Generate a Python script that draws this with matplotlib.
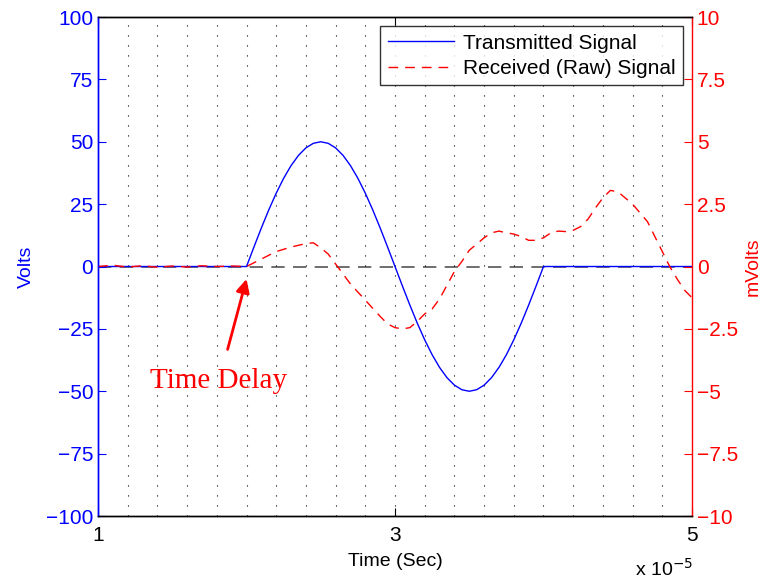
import numpy as np
import matplotlib
matplotlib.use('Agg')
import matplotlib.pyplot as plt
from matplotlib.ticker import FixedLocator, FuncFormatter

plt.rcParams['font.family'] = ['Liberation Sans', 'DejaVu Sans']

# transmitted pulse (Volts), time in units of 1e-5 s
tx_t = [1.0, 2.0, 2.05, 2.1, 2.15, 2.2, 2.25, 2.3, 2.35, 2.4, 2.45, 2.5,
        2.55, 2.6, 2.65, 2.7, 2.75, 2.8, 2.85, 2.9, 2.95, 3.0,
        3.05, 3.1, 3.15, 3.2, 3.25, 3.3, 3.35, 3.4, 3.45, 3.5,
        3.55, 3.6, 3.65, 3.7, 3.75, 3.8, 3.85, 3.9, 3.95, 4.0, 5.0]
tx_v = [0, 0, 7.82, 15.45, 22.70, 29.39, 35.36, 40.45, 44.55, 47.55, 49.38, 50,
        49.38, 47.55, 44.55, 40.45, 35.36, 29.39, 22.70, 15.45, 7.82, 0,
        -7.82, -15.45, -22.70, -29.39, -35.36, -40.45, -44.55, -47.55, -49.38, -50,
        -49.38, -47.55, -44.55, -40.45, -35.36, -29.39, -22.70, -15.45, -7.82, 0, 0]

# received raw signal (mVolts)
rx_t = [1.0, 1.1, 1.2, 1.3, 1.4, 1.5, 1.6, 1.7, 1.8, 1.9, 2.0, 2.05, 2.1, 2.2,
        2.3, 2.4, 2.45, 2.5, 2.55, 2.6, 2.65, 2.7, 2.8, 2.9, 2.95, 3.0, 3.05,
        3.1, 3.15, 3.2, 3.25, 3.3, 3.35, 3.4, 3.45, 3.5, 3.55, 3.6, 3.65, 3.7,
        3.75, 3.8, 3.85, 3.9, 3.95, 4.0, 4.05, 4.1, 4.15, 4.2, 4.25, 4.3, 4.35,
        4.4, 4.45, 4.5, 4.55, 4.6, 4.65, 4.7, 4.75, 4.8, 4.85, 4.9, 4.95, 5.0]
rx_v = [0.0, 0.05, -0.02, 0.03, -0.03, 0.02, -0.02, 0.03, 0.0, 0.02, 0.0, 0.15,
        0.3, 0.6, 0.78, 0.92, 0.95, 0.75, 0.5, 0.1, -0.3, -0.7, -1.35, -2.0,
        -2.3, -2.45, -2.5, -2.45, -2.2, -1.9, -1.7, -1.3, -0.75, -0.2, 0.2, 0.65,
        0.9, 1.15, 1.35, 1.42, 1.35, 1.3, 1.2, 1.05, 1.05, 1.15, 1.35, 1.42, 1.4,
        1.45, 1.6, 1.9, 2.35, 2.75, 3.05, 3.0, 2.75, 2.5, 2.15, 1.8, 1.2, 0.6,
        0.0, -0.5, -0.95, -1.25]

volt_ticks = [-100, -75, -50, -25, 0, 25, 50, 75, 100]
mvolt_ticks = [-10, -7.5, -5, -2.5, 0, 2.5, 5, 7.5, 10]
time_ticks = [1, 3, 5]
grid_ticks = [1.2, 1.4, 1.6, 1.8, 2.0, 2.2, 2.4, 2.6, 2.8, 3.2, 3.4, 3.6,
              3.8, 4.0, 4.2, 4.4, 4.6, 4.8]

fig = plt.figure(figsize=(7.67, 5.79), dpi=100)
ax = fig.add_axes([0.1278, 0.1088, 0.7744, 0.8618])
ax2 = ax.twinx()

ax.axhline(0, color='#555555', lw=1.2, dashes=(8, 5), zorder=1)
l1, = ax.plot(np.array(tx_t) * 1e-5, tx_v, color='blue', lw=1, zorder=3)
l2, = ax2.plot(np.array(rx_t) * 1e-5, rx_v, color='red', lw=1, dashes=(7, 5))

ax.set_xlim(1e-5, 5e-5)
ax.set_ylim(-100, 100)
ax2.set_ylim(-10, 10)

minus = lambda v, p: ('%g' % v).replace('-', '\u2212')
ax.set_yticks(volt_ticks)
ax.yaxis.set_major_formatter(FuncFormatter(minus))
ax2.set_yticks(mvolt_ticks)
ax2.yaxis.set_major_formatter(FuncFormatter(minus))
ax.set_xticks([t * 1e-5 for t in time_ticks])
ax.xaxis.set_major_formatter(FuncFormatter(lambda v, p: '%g' % round(v * 1e5, 3)))
ax.xaxis.set_minor_locator(FixedLocator([t * 1e-5 for t in grid_ticks]))

ax.grid(True, which='both', axis='x', color='black', lw=0.8, linestyle=(0, (1, 8)))
ax.tick_params(axis='x', which='minor', length=0)
ax.tick_params(axis='x', which='major', direction='in', length=6, labelsize=15, pad=7,
               top=True)
ax.tick_params(axis='y', direction='in', length=6, labelsize=15, colors='blue')
ax2.tick_params(axis='y', direction='in', length=6, labelsize=15, colors='red')

ax.spines['left'].set_color('blue')
ax2.spines['left'].set_color('blue')
ax2.spines['right'].set_color('red')
ax.spines['right'].set_visible(False)
for a in (ax, ax2):
    for s in a.spines.values():
        s.set_linewidth(1)

ax.set_ylabel('Volts', color='blue', fontsize=14, labelpad=8)
ax2.set_ylabel('mVolts', color='red', fontsize=14, labelpad=5)
ax.set_xlabel('Time (Sec)', fontsize=14, labelpad=6)
fig.text(0.828, 0.005, 'x 10$^{\u22125}$', fontsize=14)

leg = ax2.legend([l1, l2], ['Transmitted Signal', 'Received (Raw) Signal'],
                 loc='upper right', fontsize=15, frameon=True, fancybox=False,
                 borderaxespad=0.45, handlelength=3.2, handletextpad=0.4,
                 borderpad=0.35, labelspacing=0.3)
leg.get_frame().set_edgecolor('black')
leg.get_frame().set_linewidth(1)

ax.annotate('Time Delay', xy=(2.0e-5, -5), xytext=(1.815e-5, -46),
            fontsize=21, color='red', family=['Liberation Serif', 'DejaVu Serif'],
            ha='center', va='center',
            arrowprops=dict(arrowstyle='-|>', color='red', lw=2,
                            mutation_scale=20, shrinkA=12, shrinkB=0))

fig.savefig('out.png', dpi=100)
